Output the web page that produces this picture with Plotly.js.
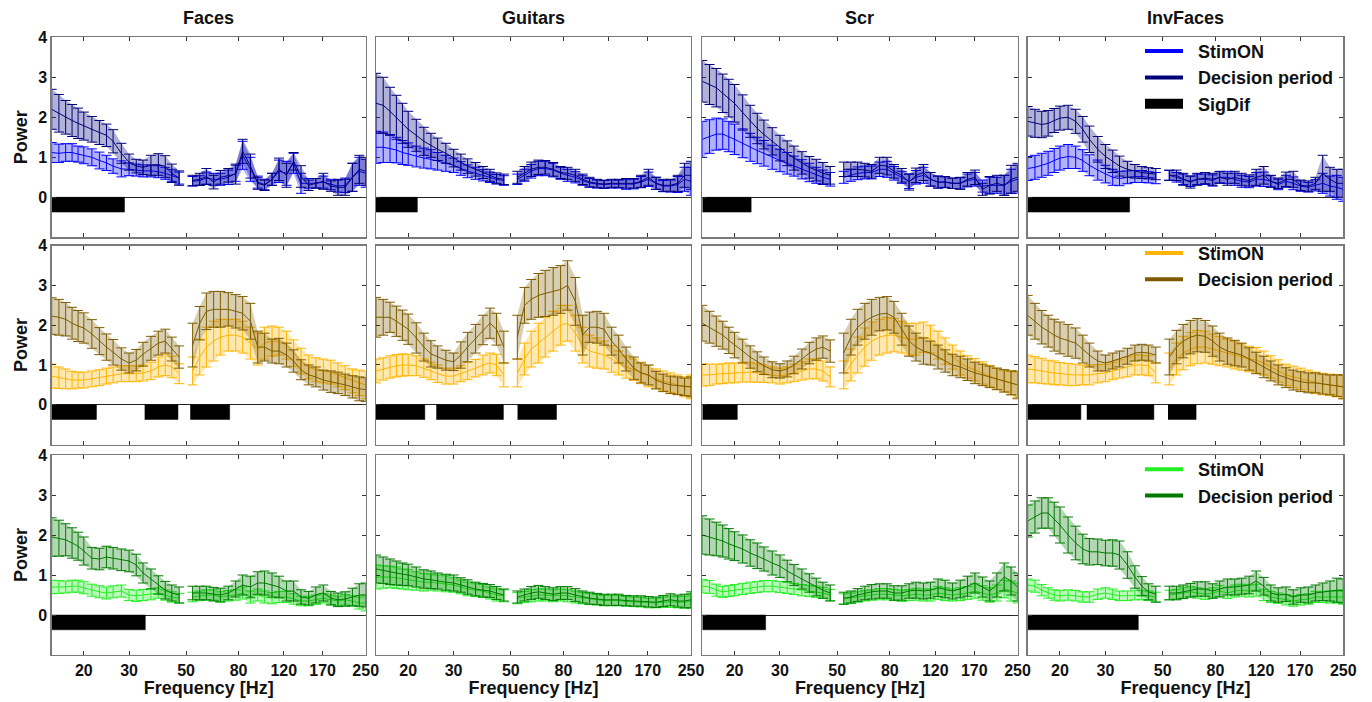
<!DOCTYPE html>
<html>
<head>
<meta charset="utf-8">
<script src="https://cdn.plot.ly/plotly-3.0.1.min.js"></script>
<style>
html,body{margin:0;padding:0;background:#fff;}
#chart{width:1372px;height:702px;}
</style>
</head>
<body>
<div id="chart"></div>
<script>
// ---------- data ----------
const freqs = [15,16,17,18,19,20, 21.5,23,24.5,26,28,30, 32,34,36.5,39,41.5,44,47, 53,56.5,60,64,68,73,78,83,89,95, 101,108,115,123,131,140,150,160,171,183,195,208,222,236,250];
const notchHz = 50;
const conditions = ['Faces','Guitars','Scr','InvFaces'];
const seriesNames = ['StimON','Decision period'];
const sigName = 'SigDif';
const tickFreqs = [20,30,50,80,120,170,250];
const yTicks = [0,1,2,3,4];

// Row 1 (blue)
const facesBlueStim = [1.12,1.1,1.12,1.12,1.08,1.05, 1.0,0.92,0.86,0.78,0.71,0.7, 0.68,0.66,0.66,0.64,0.6,0.55,0.48, 0.4,0.42,0.48,0.45,0.45,0.5,0.6,1.05,0.7,0.38, 0.32,0.45,0.65,0.6,0.85,0.35,0.35,0.35,0.38,0.32,0.28,0.3,0.5,0.65,0.6];
const facesBlueStimErr = [0.25,0.23,0.22,0.22,0.2,0.21, 0.21,0.21,0.19,0.18,0.2,0.16, 0.15,0.15,0.15,0.15,0.15,0.15,0.15, 0.12,0.12,0.15,0.15,0.15,0.18,0.2,0.35,0.3,0.15, 0.13,0.15,0.28,0.3,0.25,0.25,0.12,0.12,0.15,0.13,0.15,0.18,0.35,0.35,0.35];
const facesBlueDec = [2.2,2.1,2.0,1.92,1.85,1.78, 1.7,1.62,1.55,1.4,1.1,0.88, 0.78,0.75,0.8,0.82,0.77,0.6,0.48, 0.42,0.45,0.52,0.38,0.5,0.55,0.58,1.15,0.78,0.35, 0.3,0.45,0.7,0.55,0.9,0.52,0.3,0.35,0.4,0.28,0.25,0.25,0.5,0.7,0.65];
const facesBlueDecErr = [0.5,0.47,0.42,0.4,0.38,0.35, 0.32,0.3,0.28,0.29,0.25,0.2, 0.17,0.18,0.25,0.27,0.27,0.23,0.18, 0.13,0.15,0.2,0.17,0.17,0.17,0.25,0.3,0.3,0.15, 0.13,0.15,0.28,0.3,0.22,0.27,0.13,0.12,0.2,0.13,0.2,0.2,0.35,0.35,0.35];

const guitarsBlueStim = [1.25,1.25,1.22,1.18,1.12,1.08, 1.02,0.98,0.95,0.9,0.85,0.8, 0.72,0.65,0.6,0.55,0.5,0.45,0.42, 0.45,0.55,0.65,0.72,0.72,0.68,0.6,0.55,0.5,0.42, 0.36,0.33,0.32,0.33,0.33,0.32,0.33,0.38,0.45,0.35,0.28,0.28,0.32,0.45,0.4];
const guitarsBlueStimErr = [0.4,0.38,0.35,0.32,0.3,0.28, 0.26,0.25,0.24,0.22,0.2,0.18, 0.17,0.16,0.15,0.14,0.13,0.12,0.12, 0.13,0.15,0.17,0.18,0.18,0.17,0.15,0.15,0.14,0.12, 0.11,0.1,0.1,0.1,0.1,0.12,0.12,0.14,0.18,0.15,0.14,0.15,0.2,0.3,0.35];
const guitarsBlueDec = [2.35,2.3,2.15,2.0,1.85,1.7, 1.55,1.4,1.3,1.2,1.1,0.98, 0.88,0.78,0.7,0.62,0.55,0.48,0.45, 0.5,0.6,0.7,0.75,0.75,0.7,0.62,0.6,0.55,0.45, 0.38,0.35,0.33,0.35,0.35,0.35,0.35,0.4,0.5,0.35,0.3,0.3,0.35,0.55,0.55];
const guitarsBlueDecErr = [0.75,0.7,0.6,0.55,0.5,0.45, 0.4,0.35,0.3,0.28,0.25,0.22, 0.2,0.18,0.17,0.15,0.15,0.13,0.13, 0.15,0.17,0.18,0.18,0.17,0.17,0.15,0.15,0.15,0.13, 0.12,0.1,0.1,0.1,0.1,0.12,0.12,0.15,0.2,0.15,0.15,0.15,0.2,0.3,0.35];

const scrBlueStim = [1.45,1.52,1.58,1.58,1.52,1.45, 1.35,1.25,1.17,1.1,1.0,0.92, 0.85,0.78,0.7,0.62,0.55,0.5,0.45, 0.5,0.55,0.6,0.62,0.62,0.7,0.7,0.6,0.5,0.4, 0.5,0.55,0.45,0.38,0.38,0.35,0.35,0.42,0.45,0.28,0.3,0.3,0.3,0.4,0.45];
const scrBlueStimErr = [0.45,0.42,0.4,0.38,0.38,0.38, 0.36,0.35,0.33,0.32,0.3,0.28, 0.27,0.25,0.24,0.23,0.2,0.18,0.17, 0.15,0.15,0.16,0.16,0.16,0.18,0.2,0.17,0.15,0.18, 0.17,0.2,0.17,0.15,0.13,0.13,0.14,0.16,0.17,0.15,0.2,0.2,0.25,0.3,0.35];
const scrBlueDec = [2.9,2.82,2.74,2.6,2.48,2.35, 2.12,1.9,1.72,1.57,1.4,1.23, 1.1,0.98,0.86,0.75,0.68,0.6,0.55, 0.7,0.7,0.7,0.68,0.65,0.8,0.78,0.65,0.55,0.38, 0.55,0.62,0.45,0.38,0.38,0.35,0.35,0.45,0.5,0.2,0.3,0.35,0.3,0.45,0.5];
const scrBlueDecErr = [0.52,0.5,0.48,0.48,0.47,0.47, 0.44,0.4,0.38,0.36,0.34,0.32, 0.31,0.3,0.28,0.27,0.27,0.27,0.22, 0.18,0.18,0.18,0.17,0.17,0.2,0.22,0.17,0.17,0.2, 0.18,0.2,0.17,0.15,0.14,0.13,0.15,0.17,0.18,0.15,0.22,0.2,0.25,0.35,0.35];

const invBlueStim = [0.72,0.75,0.8,0.85,0.92,0.98, 1.02,1.0,0.92,0.8,0.68,0.58, 0.5,0.47,0.5,0.52,0.52,0.5,0.48, 0.55,0.5,0.45,0.4,0.45,0.45,0.42,0.5,0.5,0.45, 0.4,0.38,0.45,0.45,0.4,0.32,0.4,0.35,0.28,0.25,0.3,0.35,0.28,0.25,0.2];
const invBlueStimErr = [0.3,0.3,0.3,0.3,0.3,0.3, 0.3,0.28,0.27,0.26,0.25,0.22, 0.2,0.18,0.16,0.15,0.15,0.14,0.14, 0.12,0.12,0.13,0.13,0.13,0.13,0.14,0.14,0.15,0.15, 0.15,0.14,0.17,0.18,0.14,0.13,0.15,0.16,0.13,0.12,0.14,0.25,0.25,0.3,0.3];
const invBlueDec = [1.9,1.85,1.82,1.85,1.92,1.98, 2.0,1.9,1.7,1.45,1.2,1.02, 0.9,0.78,0.7,0.65,0.62,0.6,0.58, 0.55,0.55,0.45,0.38,0.45,0.48,0.45,0.5,0.45,0.5, 0.45,0.42,0.5,0.55,0.4,0.35,0.45,0.45,0.3,0.28,0.35,0.6,0.45,0.35,0.35];
const invBlueDecErr = [0.37,0.35,0.33,0.32,0.3,0.3, 0.3,0.3,0.32,0.33,0.32,0.3, 0.28,0.25,0.2,0.17,0.15,0.14,0.14, 0.13,0.13,0.15,0.15,0.15,0.14,0.15,0.15,0.15,0.15, 0.15,0.14,0.2,0.22,0.15,0.13,0.18,0.2,0.13,0.13,0.15,0.45,0.3,0.35,0.35];

// Row 2 (orange)
const facesOrangeStim = [0.72,0.68,0.65,0.62,0.62,0.62, 0.65,0.68,0.72,0.75,0.78,0.78, 0.78,0.8,0.85,0.95,1.0,0.95,0.78, 0.85,1.2,1.45,1.6,1.7,1.75,1.75,1.7,1.55,1.4, 1.55,1.6,1.6,1.5,1.3,1.1,0.95,0.88,0.85,0.82,0.75,0.68,0.6,0.55,0.5];
const facesOrangeStimErr = [0.3,0.27,0.25,0.22,0.2,0.2, 0.2,0.2,0.2,0.2,0.2,0.2, 0.2,0.2,0.22,0.25,0.27,0.27,0.25, 0.35,0.45,0.5,0.5,0.45,0.4,0.4,0.4,0.4,0.4, 0.4,0.38,0.35,0.35,0.33,0.32,0.3,0.3,0.3,0.3,0.3,0.3,0.3,0.32,0.35];
const facesOrangeDec = [2.23,2.2,2.15,2.05,1.98,1.93, 1.78,1.6,1.45,1.32,1.15,1.05, 1.12,1.27,1.42,1.55,1.6,1.4,1.2, 1.5,2.05,2.35,2.4,2.4,2.4,2.35,2.3,2.1,1.45, 1.45,1.35,1.35,1.25,1.1,0.88,0.75,0.7,0.62,0.58,0.55,0.5,0.45,0.4,0.38];
const facesOrangeDecErr = [0.46,0.45,0.42,0.4,0.39,0.38, 0.36,0.34,0.33,0.32,0.28,0.25, 0.27,0.3,0.3,0.3,0.3,0.3,0.28, 0.55,0.42,0.46,0.45,0.45,0.42,0.42,0.42,0.45,0.4, 0.35,0.3,0.32,0.3,0.28,0.25,0.25,0.25,0.25,0.27,0.27,0.27,0.28,0.3,0.3];

const guitarsOrangeStim = [0.85,0.9,0.95,0.98,1.0,1.0, 0.98,0.92,0.85,0.78,0.72,0.72, 0.78,0.85,0.92,1.0,1.05,1.0,0.75, 0.8,1.15,1.4,1.55,1.7,1.85,2.0,2.05,1.8,1.5, 1.35,1.3,1.25,1.15,1.05,0.95,0.88,0.8,0.72,0.65,0.6,0.55,0.5,0.45,0.45];
const guitarsOrangeStimErr = [0.3,0.28,0.28,0.28,0.28,0.27, 0.25,0.23,0.22,0.22,0.2,0.2, 0.2,0.22,0.22,0.25,0.25,0.27,0.3, 0.35,0.4,0.45,0.5,0.5,0.5,0.5,0.45,0.45,0.45, 0.4,0.38,0.35,0.33,0.3,0.28,0.27,0.27,0.27,0.25,0.25,0.25,0.25,0.25,0.3];
const guitarsOrangeDec = [2.2,2.2,2.2,2.1,2.0,1.9, 1.68,1.45,1.28,1.2,1.12,1.08, 1.25,1.45,1.66,1.88,2.05,1.9,1.45, 1.7,2.5,2.65,2.75,2.8,2.85,2.9,3.0,2.6,1.75, 1.95,1.95,1.9,1.6,1.4,1.15,0.92,0.8,0.75,0.62,0.55,0.5,0.48,0.45,0.45];
const guitarsOrangeDecErr = [0.5,0.45,0.38,0.38,0.38,0.38, 0.38,0.35,0.33,0.28,0.25,0.22, 0.33,0.37,0.36,0.37,0.38,0.4,0.4, 0.55,0.45,0.5,0.55,0.58,0.6,0.6,0.62,0.6,0.5, 0.38,0.4,0.4,0.35,0.35,0.3,0.28,0.25,0.25,0.22,0.22,0.22,0.22,0.22,0.25];

const scrOrangeStim = [0.75,0.75,0.77,0.78,0.8,0.8, 0.82,0.82,0.8,0.78,0.75,0.72, 0.75,0.8,0.85,0.9,0.9,0.85,0.7, 0.75,1.0,1.25,1.45,1.6,1.7,1.75,1.75,1.7,1.65, 1.65,1.7,1.65,1.5,1.35,1.2,1.05,0.95,0.88,0.8,0.72,0.65,0.6,0.55,0.5];
const scrOrangeStimErr = [0.28,0.27,0.25,0.25,0.25,0.25, 0.25,0.25,0.23,0.22,0.2,0.2, 0.2,0.22,0.23,0.25,0.25,0.25,0.25, 0.35,0.4,0.45,0.48,0.48,0.45,0.45,0.42,0.4,0.4, 0.4,0.38,0.35,0.35,0.33,0.3,0.3,0.28,0.28,0.28,0.27,0.27,0.28,0.3,0.32];
const scrOrangeDec = [2.05,1.95,1.85,1.75,1.62,1.5, 1.35,1.2,1.08,0.98,0.88,0.85, 0.9,1.0,1.15,1.3,1.4,1.45,1.35, 1.3,1.7,1.95,2.1,2.2,2.28,2.3,2.2,1.9,1.6, 1.45,1.35,1.3,1.2,1.1,1.0,0.95,0.88,0.8,0.75,0.7,0.65,0.6,0.55,0.5];
const scrOrangeDecErr = [0.45,0.4,0.38,0.35,0.33,0.32, 0.3,0.28,0.25,0.22,0.2,0.18, 0.2,0.22,0.25,0.27,0.28,0.28,0.28, 0.5,0.45,0.45,0.45,0.45,0.42,0.42,0.4,0.4,0.38, 0.35,0.33,0.3,0.3,0.28,0.27,0.27,0.27,0.27,0.27,0.27,0.27,0.28,0.3,0.35];

const invOrangeStim = [0.9,0.88,0.85,0.82,0.8,0.78, 0.76,0.75,0.75,0.75,0.78,0.8, 0.85,0.9,0.95,1.0,1.0,0.98,0.8, 0.9,1.15,1.3,1.4,1.45,1.45,1.4,1.35,1.3,1.25, 1.2,1.15,1.12,1.05,0.95,0.85,0.75,0.7,0.65,0.6,0.55,0.52,0.5,0.48,0.45];
const invOrangeStimErr = [0.35,0.33,0.32,0.3,0.3,0.28, 0.28,0.27,0.25,0.25,0.23,0.22, 0.22,0.23,0.25,0.25,0.25,0.25,0.25, 0.4,0.4,0.42,0.42,0.42,0.4,0.38,0.37,0.35,0.35, 0.33,0.32,0.32,0.3,0.28,0.28,0.27,0.27,0.27,0.27,0.27,0.27,0.27,0.28,0.3];
const invOrangeDec = [2.25,2.1,1.95,1.85,1.75,1.68, 1.62,1.55,1.4,1.25,1.1,1.05, 1.1,1.15,1.22,1.3,1.32,1.3,1.25, 1.2,1.45,1.6,1.7,1.75,1.72,1.6,1.45,1.35,1.3, 1.25,1.15,1.05,0.95,0.85,0.75,0.68,0.62,0.58,0.55,0.55,0.52,0.5,0.48,0.45];
const invOrangeDecErr = [0.5,0.45,0.42,0.4,0.4,0.4, 0.4,0.38,0.35,0.3,0.25,0.2, 0.2,0.2,0.2,0.2,0.2,0.2,0.2, 0.45,0.42,0.42,0.42,0.42,0.4,0.38,0.35,0.33,0.32, 0.3,0.28,0.27,0.27,0.25,0.25,0.25,0.25,0.25,0.25,0.25,0.25,0.25,0.27,0.3];

// Row 3 (green)
const facesGreenStim = [0.7,0.7,0.7,0.72,0.72,0.68, 0.62,0.58,0.55,0.58,0.6,0.5, 0.48,0.5,0.52,0.55,0.5,0.45,0.42, 0.45,0.48,0.5,0.5,0.45,0.48,0.5,0.55,0.45,0.5, 0.45,0.42,0.45,0.45,0.4,0.35,0.35,0.38,0.42,0.38,0.35,0.38,0.35,0.3,0.3];
const facesGreenStimErr = [0.17,0.16,0.15,0.15,0.15,0.15, 0.15,0.15,0.15,0.15,0.15,0.14, 0.14,0.14,0.14,0.13,0.13,0.13,0.12, 0.12,0.12,0.13,0.13,0.13,0.13,0.13,0.15,0.15,0.15, 0.15,0.14,0.14,0.14,0.13,0.12,0.12,0.12,0.12,0.12,0.12,0.13,0.13,0.15,0.2];
const facesGreenDec = [1.95,1.92,1.88,1.8,1.72,1.6, 1.42,1.4,1.45,1.42,1.38,1.35, 1.25,1.05,0.9,0.75,0.62,0.55,0.5, 0.55,0.55,0.55,0.52,0.5,0.55,0.65,0.75,0.7,0.8, 0.8,0.75,0.7,0.6,0.6,0.45,0.42,0.5,0.55,0.42,0.38,0.4,0.45,0.5,0.5];
const facesGreenDecErr = [0.48,0.45,0.4,0.38,0.35,0.35, 0.27,0.27,0.27,0.27,0.27,0.27, 0.27,0.25,0.25,0.23,0.22,0.2,0.2, 0.17,0.17,0.17,0.17,0.17,0.17,0.2,0.25,0.27,0.28, 0.3,0.3,0.27,0.25,0.25,0.18,0.17,0.2,0.2,0.17,0.17,0.18,0.22,0.28,0.3];

const guitarsGreenStim = [0.95,0.95,0.95,0.93,0.9,0.88, 0.85,0.82,0.82,0.8,0.78,0.75, 0.7,0.65,0.62,0.6,0.55,0.5,0.48, 0.42,0.45,0.48,0.5,0.5,0.48,0.5,0.48,0.45,0.42, 0.4,0.38,0.36,0.36,0.36,0.34,0.33,0.32,0.3,0.3,0.32,0.33,0.32,0.32,0.35];
const guitarsGreenStimErr = [0.3,0.28,0.27,0.27,0.25,0.25, 0.23,0.22,0.2,0.2,0.2,0.18, 0.17,0.17,0.16,0.16,0.15,0.15,0.15, 0.14,0.14,0.15,0.15,0.15,0.15,0.15,0.15,0.15,0.14, 0.14,0.13,0.13,0.13,0.13,0.12,0.12,0.12,0.12,0.12,0.13,0.14,0.14,0.15,0.18];
const guitarsGreenDec = [1.15,1.12,1.08,1.05,1.02,1.0, 0.95,0.9,0.88,0.85,0.82,0.8, 0.75,0.7,0.65,0.62,0.6,0.55,0.5, 0.45,0.5,0.55,0.58,0.55,0.52,0.55,0.55,0.5,0.45, 0.42,0.4,0.38,0.38,0.38,0.36,0.35,0.35,0.33,0.32,0.35,0.38,0.35,0.35,0.38];
const guitarsGreenDecErr = [0.35,0.33,0.32,0.3,0.28,0.27, 0.25,0.23,0.22,0.2,0.2,0.2, 0.18,0.18,0.17,0.17,0.16,0.16,0.15, 0.15,0.15,0.16,0.16,0.16,0.16,0.16,0.16,0.16,0.15, 0.15,0.14,0.14,0.14,0.14,0.13,0.13,0.13,0.13,0.13,0.14,0.15,0.15,0.17,0.2];

const scrGreenStim = [0.72,0.7,0.62,0.58,0.6,0.62, 0.65,0.68,0.7,0.72,0.72,0.7, 0.68,0.65,0.62,0.6,0.58,0.55,0.5, 0.4,0.42,0.45,0.48,0.5,0.52,0.52,0.5,0.48,0.5, 0.52,0.5,0.5,0.55,0.52,0.5,0.52,0.55,0.6,0.55,0.5,0.55,0.65,0.6,0.55];
const scrGreenStimErr = [0.17,0.16,0.15,0.14,0.14,0.14, 0.14,0.14,0.14,0.14,0.14,0.14, 0.14,0.14,0.14,0.14,0.14,0.14,0.14, 0.13,0.13,0.13,0.13,0.13,0.14,0.14,0.14,0.14,0.14, 0.15,0.15,0.15,0.16,0.16,0.15,0.16,0.16,0.18,0.18,0.18,0.2,0.22,0.25,0.25];
const scrGreenDec = [2.0,1.95,1.9,1.85,1.78,1.72, 1.65,1.55,1.48,1.4,1.3,1.22, 1.1,1.0,0.9,0.8,0.7,0.62,0.55, 0.42,0.45,0.5,0.55,0.58,0.6,0.6,0.55,0.55,0.6, 0.62,0.6,0.62,0.68,0.65,0.6,0.65,0.72,0.8,0.7,0.6,0.75,0.95,0.85,0.7];
const scrGreenDecErr = [0.48,0.45,0.42,0.4,0.38,0.36, 0.35,0.33,0.32,0.3,0.3,0.28, 0.27,0.26,0.25,0.23,0.22,0.2,0.2, 0.15,0.15,0.16,0.17,0.18,0.18,0.18,0.18,0.18,0.18, 0.2,0.2,0.2,0.22,0.22,0.2,0.22,0.25,0.25,0.25,0.25,0.3,0.35,0.35,0.35];

const invGreenStim = [0.75,0.72,0.62,0.55,0.5,0.48, 0.5,0.48,0.45,0.45,0.52,0.55, 0.52,0.48,0.48,0.5,0.5,0.48,0.45, 0.5,0.52,0.55,0.58,0.55,0.52,0.55,0.6,0.55,0.6, 0.62,0.6,0.62,0.5,0.45,0.42,0.38,0.35,0.38,0.4,0.45,0.45,0.45,0.45,0.45];
const invGreenStimErr = [0.15,0.15,0.14,0.13,0.13,0.13, 0.13,0.13,0.13,0.13,0.13,0.13, 0.13,0.12,0.12,0.12,0.12,0.12,0.12, 0.12,0.12,0.13,0.13,0.13,0.13,0.13,0.14,0.14,0.15, 0.15,0.15,0.15,0.14,0.14,0.13,0.13,0.13,0.13,0.13,0.14,0.14,0.15,0.15,0.18];
const invGreenDec = [2.35,2.45,2.55,2.55,2.4,2.25, 2.0,1.8,1.65,1.58,1.58,1.55, 1.55,1.5,1.25,0.95,0.72,0.58,0.52, 0.55,0.55,0.58,0.62,0.65,0.65,0.6,0.65,0.7,0.7, 0.72,0.75,0.85,0.72,0.55,0.5,0.52,0.45,0.5,0.5,0.55,0.58,0.6,0.62,0.6];
const invGreenDecErr = [0.4,0.4,0.38,0.38,0.42,0.45, 0.45,0.42,0.37,0.33,0.32,0.32, 0.33,0.35,0.33,0.28,0.24,0.2,0.2, 0.17,0.17,0.17,0.17,0.18,0.18,0.18,0.2,0.2,0.2, 0.2,0.22,0.25,0.22,0.2,0.18,0.18,0.18,0.18,0.2,0.2,0.22,0.25,0.3,0.3];

// Significant-difference frequency intervals [start Hz, end Hz]
const sigFacesBlue = [[15,28.8]];
const sigGuitarsBlue = [[15,21.7]];
const sigScrBlue = [[15,23.2]];
const sigInvBlue = [[15,37.2]];
const sigFacesOrange = [[15,22.4],[34.5,46.5],[51.9,73.9]];
const sigGuitarsOrange = [[15,23.2],[25.7,46.8],[53.1,75.2]];
const sigScrOrange = [[15,20.5]];
const sigInvOrange = [[15,24.1],[25.4,46.2],[52.4,67.3]];
const sigFacesGreen = [[15,34.7]];
const sigGuitarsGreen = [];
const sigScrGreen = [[15,26.4]];
const sigInvGreen = [[15,40.2]];

// ---------- styling ----------
const FONT = 'Liberation Sans, Arial, Helvetica, sans-serif';
const rowColors = [
  {stim:'#0000ff', dec:'#00007a'},
  {stim:'#ffb400', dec:'#7d5c00'},
  {stim:'#22ee22', dec:'#007a00'}
];
const sigDepth = -0.37;
const colL = [51.7, 376, 702.3, 1027.7], colR = [365.7, 691, 1017.5, 1343.3];
const rowT = [37.3, 245.7, 455], rowB = [237.3, 444.5, 655];
const legendTopOffset = [-4.5, -11, -4];
const W = 1372, H = 702;

const panels = [
  [ {stim:facesBlueStim, stimErr:facesBlueStimErr, dec:facesBlueDec, decErr:facesBlueDecErr, sig:sigFacesBlue},
    {stim:guitarsBlueStim, stimErr:guitarsBlueStimErr, dec:guitarsBlueDec, decErr:guitarsBlueDecErr, sig:sigGuitarsBlue},
    {stim:scrBlueStim, stimErr:scrBlueStimErr, dec:scrBlueDec, decErr:scrBlueDecErr, sig:sigScrBlue},
    {stim:invBlueStim, stimErr:invBlueStimErr, dec:invBlueDec, decErr:invBlueDecErr, sig:sigInvBlue} ],
  [ {stim:facesOrangeStim, stimErr:facesOrangeStimErr, dec:facesOrangeDec, decErr:facesOrangeDecErr, sig:sigFacesOrange},
    {stim:guitarsOrangeStim, stimErr:guitarsOrangeStimErr, dec:guitarsOrangeDec, decErr:guitarsOrangeDecErr, sig:sigGuitarsOrange},
    {stim:scrOrangeStim, stimErr:scrOrangeStimErr, dec:scrOrangeDec, decErr:scrOrangeDecErr, sig:sigScrOrange},
    {stim:invOrangeStim, stimErr:invOrangeStimErr, dec:invOrangeDec, decErr:invOrangeDecErr, sig:sigInvOrange} ],
  [ {stim:facesGreenStim, stimErr:facesGreenStimErr, dec:facesGreenDec, decErr:facesGreenDecErr, sig:sigFacesGreen},
    {stim:guitarsGreenStim, stimErr:guitarsGreenStimErr, dec:guitarsGreenDec, decErr:guitarsGreenDecErr, sig:sigGuitarsGreen},
    {stim:scrGreenStim, stimErr:scrGreenStimErr, dec:scrGreenDec, decErr:scrGreenDecErr, sig:sigScrGreen},
    {stim:invGreenStim, stimErr:invGreenStimErr, dec:invGreenDec, decErr:invGreenDecErr, sig:sigInvGreen} ]
];

function rgba(hex, a){
  const n = parseInt(hex.slice(1),16);
  return 'rgba(' + ((n>>16)&255) + ',' + ((n>>8)&255) + ',' + (n&255) + ',' + a + ')';
}
function withGap(arr, gapVal){
  const out = [];
  freqs.forEach((f,i)=>{
    if (i>0 && freqs[i-1] < notchHz && f > notchHz) out.push(gapVal);
    out.push(arr[i]);
  });
  return out;
}
function bandPolygon(mean, err){
  const segs = [[],[]];
  freqs.forEach((f,i)=> segs[f < notchHz ? 0 : 1].push(i));
  const X = [], Y = [];
  segs.forEach((s,k)=>{
    if (k) { X.push(null); Y.push(null); }
    s.forEach(i=>{ X.push(freqs[i]); Y.push(mean[i] + err[i]); });
    s.slice().reverse().forEach(i=>{ X.push(freqs[i]); Y.push(mean[i] - err[i]); });
  });
  return {X, Y};
}
function sigPolygon(intervals){
  const X = [], Y = [];
  intervals.forEach(([a,b],k)=>{
    if (k) { X.push(null); Y.push(null); }
    X.push(a,b,b,a); Y.push(0,0,sigDepth,sigDepth);
  });
  return {X, Y};
}

const traces = [];
const layout = {
  width: W, height: H,
  margin: {l:0, r:0, t:0, b:0},
  paper_bgcolor: '#fff', plot_bgcolor: '#fff',
  showlegend: true,
  font: {family: FONT, color: '#000'},
  annotations: []
};

const legendIds = ['legend','legend2','legend3'];

for (let r=0; r<3; r++){
  for (let c=0; c<4; c++){
    const p = r*4 + c;
    const sfx = p === 0 ? '' : String(p+1);
    const xa = 'x' + sfx, ya = 'y' + sfx;
    const d = panels[r][c];
    const col = rowColors[r];

    [['stim', col.stim], ['dec', col.dec]].forEach(([key, color])=>{
      const mean = d[key], err = d[key+'Err'];
      const band = bandPolygon(mean, err);
      traces.push({
        type:'scatter', mode:'lines', x: band.X, y: band.Y, xaxis: xa, yaxis: ya,
        fill:'toself', fillcolor: rgba(color, 0.3), line:{width:0, color: color},
        hoverinfo:'skip', showlegend:false
      });
      traces.push({
        type:'scatter', mode:'lines', x: withGap(freqs, notchHz), y: withGap(mean, null),
        xaxis: xa, yaxis: ya, line:{color: color, width:1},
        error_y:{type:'data', array: withGap(err, null), visible:true, color: color, thickness:1, width:5},
        showlegend:false, hoverinfo:'skip'
      });
    });

    if (d.sig.length){
      const sp = sigPolygon(d.sig);
      traces.push({
        type:'scatter', mode:'lines', x: sp.X, y: sp.Y, xaxis: xa, yaxis: ya,
        fill:'toself', fillcolor:'#000', line:{width:0.5, color:'#000'},
        hoverinfo:'skip', showlegend:false
      });
    }

    const xName = p === 0 ? 'xaxis' : 'xaxis' + (p+1);
    const yName = p === 0 ? 'yaxis' : 'yaxis' + (p+1);
    layout[xName] = {
      type:'log', range:[Math.log10(15), Math.log10(250)],
      domain:[colL[c]/W, colR[c]/W], anchor: ya,
      tickvals: tickFreqs, ticktext: tickFreqs.map(String),
      showticklabels: r === 2, ticks:'inside', ticklen:4, tickwidth:1, tickcolor:'#333',
      showline:true, mirror:'ticks', linecolor:'#7a7a7a', linewidth:1.3,
      showgrid:false, zeroline:false,
      tickfont:{size:16, family:FONT, color:'#111', weight:700}
    };
    if (r === 2) layout[xName].title = {text:'Frequency [Hz]', font:{size:18, family:FONT, color:'#111', weight:700}, standoff:2};
    layout[yName] = {
      range:[-1, 4], domain:[1 - rowB[r]/H, 1 - rowT[r]/H], anchor: xa,
      tickvals: yTicks, ticktext: yTicks.map(String),
      showticklabels: c === 0, ticks:'inside', ticklen:4, tickwidth:1, tickcolor:'#333',
      showline:true, mirror:'ticks', linecolor:'#7a7a7a', linewidth:1.3,
      showgrid:false, zeroline:true, zerolinecolor:'#222', zerolinewidth:1,
      tickfont:{size:16, family:FONT, color:'#111', weight:700}
    };
    if (c === 0) layout[yName].title = {text:'Power', font:{size:18, family:FONT, color:'#111', weight:700}, standoff:6};

    if (r === 0){
      layout.annotations.push({
        text: conditions[c], xref:'paper', yref:'paper',
        x: (colL[c] + colR[c]) / 2 / W, y: 1 - 18/H, xanchor:'center', yanchor:'middle',
        showarrow:false, font:{size:18, family:FONT, color:'#111', weight:700}
      });
    }

    // legend entries (drawn in last column of each row)
    if (c === 3){
      const lg = legendIds[r];
      traces.push({type:'scatter', mode:'lines', x:[null], y:[null], xaxis:xa, yaxis:ya,
        name:'\u00a0\u00a0' + seriesNames[0], line:{color: col.stim, width:4}, legend: lg, showlegend:true});
      traces.push({type:'scatter', mode:'lines', x:[null], y:[null], xaxis:xa, yaxis:ya,
        name:'\u00a0\u00a0' + seriesNames[1], line:{color: col.dec, width:4}, legend: lg, showlegend:true});
      if (r === 0){
        traces.push({type:'scatter', mode:'lines', x:[null], y:[null], xaxis:xa, yaxis:ya,
          name:'\u00a0\u00a0' + sigName, line:{color:'#000', width:15}, legend: lg, showlegend:true});
      }
      layout[lg] = {
        x: 1140/W, y: 1 - (rowT[r] + legendTopOffset[r])/H, xanchor:'left', yanchor:'top',
        bgcolor:'rgba(0,0,0,0)', borderwidth:0, itemwidth:38, tracegroupgap:0,
        font:{size:18, family:FONT, color:'#111', weight:700}
      };
    }
  }
}

Plotly.newPlot('chart', traces, layout, {displayModeBar:false, staticPlot:true});
</script>
</body>
</html>
